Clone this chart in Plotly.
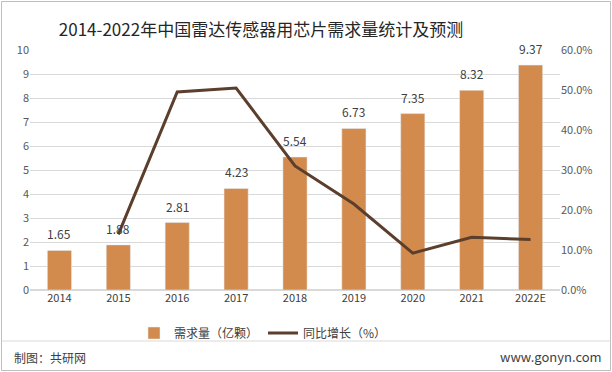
import plotly.graph_objects as go

years = ["2014", "2015", "2016", "2017", "2018", "2019", "2020", "2021", "2022E"]
demand = [1.65, 1.88, 2.81, 4.23, 5.54, 6.73, 7.35, 8.32, 9.37]
growth_years = ["2015", "2016", "2017", "2018", "2019", "2020", "2021", "2022E"]
growth = [13.9, 49.5, 50.5, 31.0, 21.5, 9.2, 13.2, 12.6]

left_ticks = list(range(0, 11))
right_ticks = [0, 10, 20, 30, 40, 50, 60]
right_labels = ["0.0%", "10.0%", "20.0%", "30.0%", "40.0%", "50.0%", "60.0%"]

FONT = "Microsoft YaHei, Noto Sans CJK SC, sans-serif"
W, H = 612, 372
L, R, T, B = 30, 52, 50, 82
pw = W - L - R
ph = H - T - B
Y0 = H - B  # pixel y of the x axis


def py(y):
    return (Y0 - y) / ph


def px(x):
    return (x - L) / pw


fig = go.Figure()
fig.add_trace(go.Bar(
    x=years, y=demand, name="需求量（亿颗）",
    marker_color="#D38B4D", width=0.41,
))
fig.add_trace(go.Scatter(
    x=growth_years, y=growth, name="同比增长（%）", yaxis="y2",
    mode="lines", line=dict(color="#5B3F2C", width=3),
))

# value labels above bars (category index on the x axis)
for i, v in enumerate(demand):
    fig.add_annotation(x=i, y=v, xref="x", yref="y", text=f"{v:.2f}",
                       showarrow=False, yanchor="bottom", yshift=6,
                       font=dict(size=12, color="#404040"))

fig.update_layout(
    width=W, height=H,
    margin=dict(l=L, r=R, t=T, b=B, autoexpand=False),
    paper_bgcolor="white", plot_bgcolor="white",
    font=dict(family=FONT, size=11, color="#595959"),
    title=dict(text="2014-2022年中国雷达传感器用芯片需求量统计及预测",
               x=261 / W, xanchor="center", y=1 - 30 / H, yanchor="middle",
               font=dict(size=17, color="#262626")),
    showlegend=True,
    legend=dict(orientation="h", x=px(263), xanchor="center",
                y=py(333), yanchor="middle",
                font=dict(size=12, color="#404040"),
                bgcolor="rgba(0,0,0,0)", traceorder="normal",
                itemwidth=30),
    xaxis=dict(type="category", categoryorder="array", categoryarray=years,
               range=[-0.5, len(years) - 0.5],
               tickfont=dict(size=11, color="#404040"), showline=False,
               ticks="", showgrid=False),
    yaxis=dict(range=[0, 10], tickvals=left_ticks, showgrid=True,
               gridcolor="#D9D9D9", gridwidth=1, zeroline=True,
               zerolinecolor="#D9D9D9", ticks="", showline=False,
               tickfont=dict(size=11, color="#595959")),
    yaxis2=dict(range=[0, 60], tickvals=right_ticks, ticktext=right_labels,
                overlaying="y", side="right", showgrid=False, zeroline=False,
                ticks="", showline=False,
                tickfont=dict(size=11, color="#595959")),
)

fig.add_shape(type="rect", xref="paper", yref="paper",
              x0=px(1.5), x1=px(W - 1.5), y0=py(H - 1.5), y1=py(1.5),
              line=dict(color="#BFBFBF", width=1), layer="below")
fig.add_shape(type="line", xref="paper", yref="paper",
              x0=px(1.5), x1=px(W - 1.5), y0=py(341), y1=py(341),
              line=dict(color="#D9D9D9", width=1))
fig.add_annotation(text="制图：共研网", xref="paper", yref="paper",
                   x=px(12), xanchor="left",
                   y=py(357), yanchor="middle", showarrow=False,
                   font=dict(size=12, color="#404040"))
fig.add_annotation(text="www.gonyn.com", xref="paper", yref="paper",
                   x=px(604), xanchor="right",
                   y=py(356), yanchor="middle", showarrow=False,
                   font=dict(size=13, color="#404040"))

fig.write_html("out.html", config={"displayModeBar": False},
               post_script="document.body.style.margin='0';document.body.style.overflow='hidden';")
